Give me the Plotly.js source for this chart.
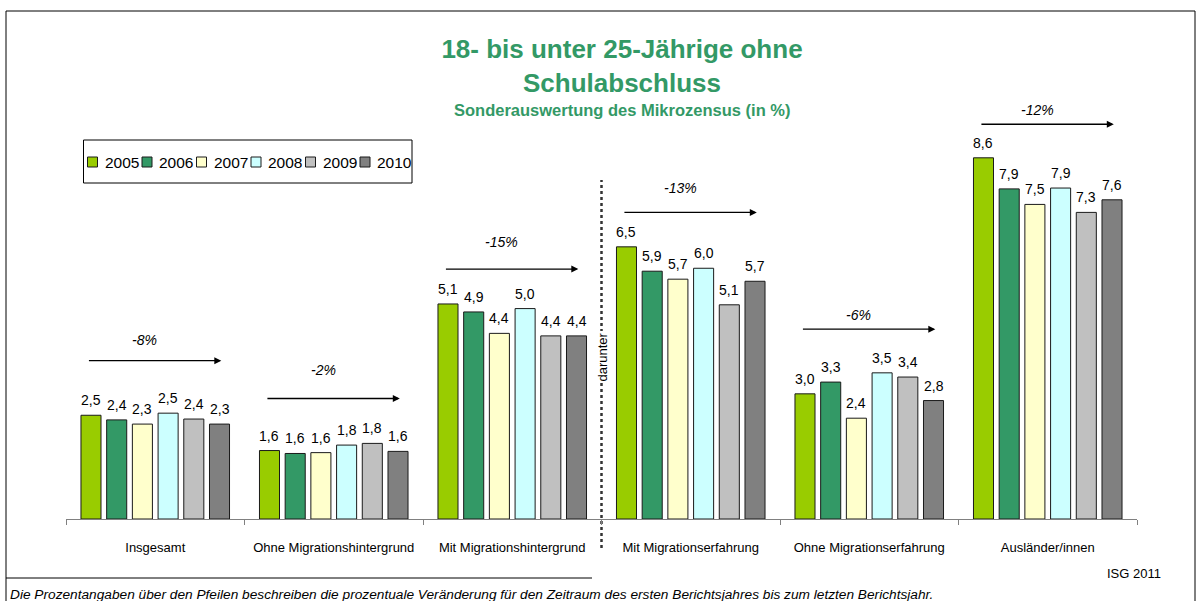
<!DOCTYPE html>
<html>
<head>
<meta charset="utf-8">
<script src="https://cdn.plot.ly/plotly-3.0.1.min.js"></script>
<style>html,body{margin:0;padding:0;background:#fff;}#chart{width:1200px;height:601px;}</style>
</head>
<body>
<div id="chart"></div>
<script>
const categories = ['Insgesamt', 'Ohne Migrationshintergrund', 'Mit Migrationshintergrund', 'Mit Migrationserfahrung', 'Ohne Migrationserfahrung', 'Ausländer/innen'];
const years = ['2005', '2006', '2007', '2008', '2009', '2010'];
const v2005 = [2.47, 1.63, 5.12, 6.48, 2.98, 8.60];
const v2006 = [2.36, 1.56, 4.93, 5.90, 3.26, 7.86];
const v2007 = [2.26, 1.58, 4.42, 5.71, 2.40, 7.49];
const v2008 = [2.52, 1.76, 5.01, 5.97, 3.48, 7.88];
const v2009 = [2.38, 1.80, 4.36, 5.10, 3.38, 7.30];
const v2010 = [2.26, 1.61, 4.36, 5.66, 2.82, 7.60];
const changes = ['-8%', '-2%', '-15%', '-13%', '-6%', '-12%'];

const series = [v2005, v2006, v2007, v2008, v2009, v2010];
const colors = ['#99CC00', '#339966', '#FFFFCC', '#CCFFFF', '#C0C0C0', '#808080'];
const FONT = 'Liberation Sans, Arial, sans-serif';

// layout geometry
const W = 1200, H = 601, ML = 66, MR = 63, MT = 99, MB = 82;
const PW = W - ML - MR, PH = H - MT - MB;
const px = x => (x - ML) / PW;
const py = y => (H - MB - y) / PH;
const BARGAP = 0.136, BARGROUPGAP = 0.22;
const slot = (1 - BARGAP) / series.length;

const traces = series.map((vals, i) => ({
  type: 'bar',
  name: years[i],
  x: categories,
  y: vals,
  marker: {color: colors[i], line: {color: '#1a1a1a', width: 1}},
  hoverinfo: 'x+y+name',
  showlegend: false
}));

const annotations = [];

// value labels above bars
series.forEach((vals, i) => {
  vals.forEach((v, g) => {
    annotations.push({
      xref: 'x', yref: 'y', x: g + (i - (series.length - 1) / 2) * slot, y: v,
      text: v.toFixed(1).replace('.', ','), showarrow: false,
      xanchor: 'center', yanchor: 'bottom', yshift: 5,
      font: {family: FONT, size: 14, color: '#000'}
    });
  });
});

// arrow layout per group (data y of arrow, data y of label)
const arrowY = [3.77, 2.87, 5.95, 7.30, 4.52, 9.40];
const labelY = [4.26, 3.55, 6.60, 7.87, 4.86, 9.74];

changes.forEach((t, g) => {
  annotations.push({
    xref: 'x', yref: 'y', axref: 'x', ayref: 'y',
    x: g + 0.37, y: arrowY[g], ax: g - 0.38, ay: arrowY[g],
    text: '', showarrow: true, arrowhead: 2, arrowsize: 1, arrowwidth: 1.4,
    arrowcolor: '#000', standoff: 0, startstandoff: 0
  });
  annotations.push({
    xref: 'x', yref: 'y', x: g - 0.06, y: labelY[g], text: '<i>' + t + '</i>',
    showarrow: false, xanchor: 'center', yanchor: 'middle',
    font: {family: FONT, size: 14, color: '#000'}
  });
});

// subtitle
annotations.push({
  xref: 'paper', yref: 'paper', x: px(622), y: py(110), xanchor: 'center', yanchor: 'middle',
  text: '<b>Sonderauswertung des Mikrozensus (in %)</b>', showarrow: false,
  font: {family: FONT, size: 16.5, color: '#339966'}
});
// darunter
annotations.push({
  xref: 'x', yref: 'paper', x: 2.5, y: py(357), textangle: -90, text: 'darunter',
  showarrow: false, xanchor: 'center', yanchor: 'middle', bgcolor: '#fff',
  font: {family: FONT, size: 13, color: '#000'}
});
// ISG 2011
annotations.push({
  xref: 'paper', yref: 'paper', x: px(1163), y: py(573), xanchor: 'right', yanchor: 'middle',
  text: 'ISG 2011', showarrow: false, font: {family: FONT, size: 13, color: '#000'}
});
// footnote
annotations.push({
  xref: 'paper', yref: 'paper', x: px(8), y: py(594), xanchor: 'left', yanchor: 'middle',
  text: '<i>Die Prozentangaben über den Pfeilen beschreiben die prozentuale Veränderung für den Zeitraum des ersten Berichtsjahres bis zum letzten Berichtsjahr.</i>',
  showarrow: false, font: {family: FONT, size: 13.7, color: '#000'}
});

const shapes = [
  // outer frame
  {type: 'rect', xref: 'paper', yref: 'paper', x0: px(6), x1: px(1195), y0: py(640), y1: py(11), line: {color: '#000', width: 1}},
  // footnote rule
  {type: 'line', xref: 'paper', yref: 'paper', x0: px(6), x1: px(592), y0: py(578), y1: py(578), line: {color: '#000', width: 1}},
  // dotted separator
  {type: 'line', xref: 'x', yref: 'paper', x0: 2.5, x1: 2.5, y0: py(548), y1: py(180), line: {color: '#333', width: 2.5, dash: 'dot'}, layer: 'below'},
  // legend box
  {type: 'rect', xref: 'paper', yref: 'paper', x0: px(83.5), x1: px(412), y0: py(183), y1: py(140), line: {color: '#000', width: 1}, fillcolor: '#fff'}
];

// legend entries
years.forEach((yr, i) => {
  const x0 = 87.5 + i * 54.5;
  shapes.push({type: 'rect', xref: 'paper', yref: 'paper', x0: px(x0), x1: px(x0 + 10), y0: py(167), y1: py(157), fillcolor: colors[i], line: {color: '#1a1a1a', width: 1}});
  annotations.push({xref: 'paper', yref: 'paper', x: px(x0 + 15), y: py(162), xanchor: 'left', yanchor: 'middle', text: yr, showarrow: false, font: {family: FONT, size: 15.5, color: '#000'}});
});

const layout = {
  width: W, height: H,
  margin: {l: ML, r: MR, t: MT, b: MB, pad: 0},
  paper_bgcolor: '#fff', plot_bgcolor: 'rgba(0,0,0,0)',
  separators: ',.',
  title: {
    text: '<b>18- bis unter 25-Jährige ohne<br>Schulabschluss</b>',
    xref: 'container', yref: 'container', x: 622 / W, y: 1 - 58 / H, xanchor: 'center', yanchor: 'middle',
    font: {family: FONT, size: 26, color: '#339966'}
  },
  barmode: 'group', bargap: BARGAP, bargroupgap: BARGROUPGAP,
  showlegend: false,
  xaxis: {
    type: 'category', showline: true, linecolor: '#808080', linewidth: 1,
    ticks: 'outside', tickson: 'boundaries', ticklen: 5, tickcolor: '#808080', tickwidth: 1,
    showgrid: false, zeroline: false, ticklabelstandoff: 16,
    tickfont: {family: FONT, size: 13, color: '#000'}
  },
  yaxis: {range: [0, 10], visible: false, showgrid: false, zeroline: false, fixedrange: true},
  annotations: annotations,
  shapes: shapes,
  font: {family: FONT}
};

Plotly.newPlot('chart', traces, layout, {displayModeBar: false, staticPlot: true});
</script>
</body>
</html>
